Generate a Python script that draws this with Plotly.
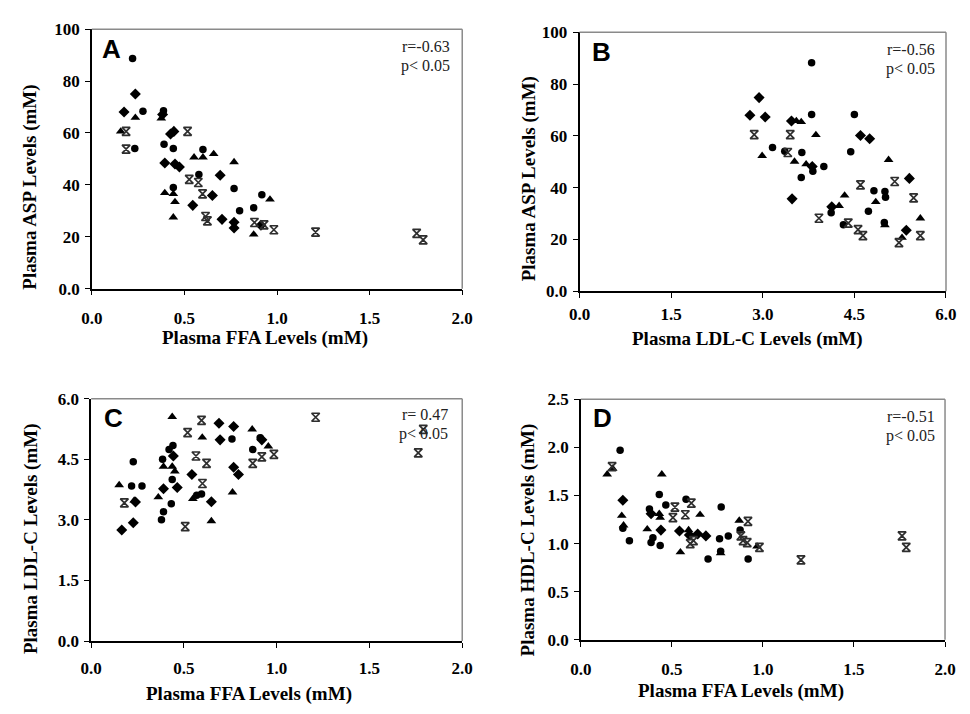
import plotly.graph_objects as go

W, H = 970, 714

# ---------------- data ----------------
# Panel A: FFA (mM) vs ASP
a_circle_x = [0.22, 0.276, 0.387, 0.232, 0.39, 0.44, 0.60, 0.578, 0.768, 0.44, 0.798, 0.874, 0.918]
a_circle_y = [88.7, 68.4, 68.6, 54.0, 55.6, 54.0, 53.6, 44.0, 38.6, 39.0, 30.0, 31.2, 36.2]
a_diamond_x = [0.235, 0.174, 0.382, 0.425, 0.443, 0.394, 0.449, 0.473, 0.693, 0.651, 0.545, 0.703, 0.768, 0.768, 0.913]
a_diamond_y = [75.0, 68.1, 67.1, 59.6, 60.6, 48.4, 48.0, 46.9, 43.7, 35.9, 32.1, 26.7, 25.6, 23.4, 24.4]
a_tri_x = [0.235, 0.375, 0.156, 0.552, 0.60, 0.658, 0.768, 0.394, 0.44, 0.449, 0.44, 0.962, 0.874]
a_tri_y = [65.9, 65.6, 60.6, 50.6, 50.6, 51.9, 48.8, 36.9, 36.5, 33.4, 27.5, 34.4, 20.9]
a_star_x = [0.185, 0.185, 0.517, 0.526, 0.575, 0.598, 0.614, 0.624, 0.878, 0.93, 0.983, 1.208, 1.754, 1.789]
a_star_y = [60.6, 53.8, 60.6, 42.1, 40.9, 36.5, 27.8, 26.1, 25.5, 24.6, 22.7, 21.8, 21.3, 18.8]

# Panel B: LDL-C (mM) vs ASP
b_circle_x = [3.80, 3.80, 4.50, 3.16, 3.36, 3.64, 3.82, 4.0, 3.63, 4.44, 4.82, 5.0, 5.01, 4.12, 4.73, 4.32, 4.99]
b_circle_y = [88.3, 68.3, 68.3, 55.5, 54.1, 53.6, 46.4, 48.2, 43.9, 53.9, 38.8, 38.5, 36.3, 30.3, 30.9, 25.7, 26.6]
b_diamond_x = [2.94, 2.79, 3.04, 3.47, 4.60, 4.75, 3.81, 5.40, 3.48, 4.13, 5.35]
b_diamond_y = [74.8, 68.0, 67.3, 65.8, 60.2, 58.9, 48.2, 43.6, 35.7, 32.6, 23.6]
b_tri_x = [3.55, 3.63, 3.87, 2.99, 3.52, 3.71, 5.06, 4.34, 4.85, 4.25, 5.58, 5.0, 5.28]
b_tri_y = [65.8, 65.4, 60.4, 52.3, 50.1, 49.1, 50.8, 37.0, 34.5, 33.0, 28.2, 25.6, 20.7]
b_star_x = [2.86, 3.45, 3.41, 5.16, 4.60, 5.47, 3.92, 4.40, 4.56, 4.64, 5.23, 5.58]
b_star_y = [60.5, 60.5, 53.6, 42.4, 41.1, 36.1, 28.2, 26.3, 23.8, 21.5, 18.8, 21.5]

# Panel C: FFA (mM) vs LDL-C
c_circle_x = [0.759, 0.911, 0.871, 0.441, 0.42, 0.385, 0.227, 0.437, 0.218, 0.274, 0.569, 0.595, 0.432, 0.39, 0.379]
c_circle_y = [5.0, 5.03, 4.74, 4.84, 4.74, 4.50, 4.44, 4.0, 3.84, 3.84, 3.61, 3.64, 3.40, 3.20, 3.0]
c_diamond_x = [0.689, 0.768, 0.695, 0.92, 0.443, 0.768, 0.794, 0.543, 0.39, 0.464, 0.648, 0.239, 0.227, 0.165]
c_diamond_y = [5.39, 5.31, 4.98, 4.98, 4.58, 4.30, 4.12, 4.12, 3.77, 3.80, 3.45, 3.44, 2.93, 2.75]
c_tri_x = [0.437, 0.868, 0.599, 0.955, 0.39, 0.437, 0.451, 0.151, 0.762, 0.362, 0.548, 0.648, 0.232]
c_tri_y = [5.55, 5.24, 5.04, 4.82, 4.32, 4.32, 4.20, 3.86, 3.68, 3.56, 3.52, 2.97, 3.48]
c_star_x = [0.595, 0.52, 0.92, 0.985, 0.871, 0.565, 0.622, 0.60, 0.179, 0.507, 1.21, 1.79, 1.763]
c_star_y = [5.46, 5.16, 4.56, 4.62, 4.40, 4.58, 4.40, 3.90, 3.42, 2.83, 5.54, 5.24, 4.66]

# Panel D: FFA (mM) vs HDL-C
d_circle_x = [0.216, 0.431, 0.578, 0.771, 0.467, 0.377, 0.231, 0.875, 0.81, 0.762, 0.267, 0.396, 0.386, 0.436, 0.699, 0.919, 0.768]
d_circle_y = [1.97, 1.51, 1.46, 1.38, 1.40, 1.36, 1.16, 1.14, 1.08, 1.05, 1.03, 1.06, 1.01, 0.98, 0.84, 0.84, 0.92]
d_diamond_x = [0.231, 0.386, 0.44, 0.542, 0.596, 0.642, 0.687]
d_diamond_y = [1.45, 1.31, 1.14, 1.13, 1.09, 1.10, 1.08]
d_tri_x = [0.145, 0.175, 0.445, 0.431, 0.436, 0.655, 0.225, 0.235, 0.87, 0.365, 0.592, 0.968, 0.547, 0.768]
d_tri_y = [1.72, 1.78, 1.72, 1.31, 1.27, 1.30, 1.29, 1.19, 1.24, 1.15, 1.14, 0.97, 0.91, 0.90]
d_star_x = [0.172, 0.607, 0.517, 0.506, 0.574, 0.918, 0.879, 0.891, 0.914, 0.601, 0.619, 0.981, 1.209, 1.764, 1.787]
d_star_y = [1.80, 1.42, 1.38, 1.27, 1.30, 1.23, 1.08, 1.03, 1.01, 1.0, 1.03, 0.96, 0.83, 1.08, 0.96]

# ticks
ffa_ticks = [0, 0.5, 1.0, 1.5, 2.0]
ffa_ticktext = ["0.0", "0.5", "1.0", "1.5", "2.0"]
asp_ticks = [0, 20, 40, 60, 80, 100]
asp_ticktext = ["0.0", "20", "40", "60", "80", "100"]
ldl_ticks = [0, 1.5, 3.0, 4.5, 6.0]
ldl_ticktext = ["0.0", "1.5", "3.0", "4.5", "6.0"]
hdl_ticks = [0, 0.5, 1.0, 1.5, 2.0, 2.5]
hdl_ticktext = ["0.0", "0.5", "1.0", "1.5", "2.0", "2.5"]

panel_letters = ["A", "B", "C", "D"]
r_texts = ["r=-0.63", "r=-0.56", "r= 0.47", "r=-0.51"]
p_texts = ["p< 0.05", "p< 0.05", "p< 0.05", "p< 0.05"]
x_titles = ["Plasma FFA Levels (mM)", "Plasma LDL-C Levels (mM)",
            "Plasma FFA Levels (mM)", "Plasma FFA Levels (mM)"]
y_titles = ["Plasma ASP Levels (mM)", "Plasma ASP Levels (mM)",
            "Plasma LDL-C Levels (mM)", "Plasma HDL-C Levels (mM)"]

# ---------------- layout geometry (pixels) ----------------
def fx(p):
    return p / W

def fy(p):
    return 1 - p / H

SERIF = "Liberation Serif"
SANS = "Liberation Sans"

panels = [
    dict(xd=(82.7, 461.7), yd=(20.7, 287.3), xr=[0, 2], yr=[0, 100],
         xt=(ffa_ticks, ffa_ticktext), yt=(asp_ticks, asp_ticktext), xso=8,
         data=[(a_circle_x, a_circle_y), (a_diamond_x, a_diamond_y), (a_tri_x, a_tri_y), (a_star_x, a_star_y)],
         letter=(103, 41), rp=(451, 39, 59), xtitle=(260, 338), ytitle=(20, 183)),
    dict(xd=(581.7, 956.7), yd=(24, 290), xr=[0, 6], yr=[0, 100],
         xt=(ldl_ticks, ldl_ticktext), yt=(asp_ticks, asp_ticktext), xso=2,
         data=[(b_circle_x, b_circle_y), (b_diamond_x, b_diamond_y), (b_tri_x, b_tri_y), (b_star_x, b_star_y)],
         letter=(604, 44), rp=(947, 42, 62), xtitle=(754, 339), ytitle=(530, 174)),
    dict(xd=(82, 461.7), yd=(400.3, 649.3), xr=[0, 2], yr=[0, 6],
         xt=(ffa_ticks, ffa_ticktext), yt=(ldl_ticks, ldl_ticktext), xso=6,
         data=[(c_circle_x, c_circle_y), (c_diamond_x, c_diamond_y), (c_tri_x, c_tri_y), (c_star_x, c_star_y)],
         letter=(105, 420), rp=(449, 417, 437), xtitle=(244, 704), ytitle=(20, 544)),
    dict(xd=(583, 955.7), yd=(401, 648), xr=[0, 2], yr=[0, 2.5],
         xt=(ffa_ticks, ffa_ticktext), yt=(hdl_ticks, hdl_ticktext), xso=8,
         data=[(d_circle_x, d_circle_y), (d_diamond_x, d_diamond_y), (d_tri_x, d_tri_y), (d_star_x, d_star_y)],
         letter=(605, 420), rp=(948, 419, 439), xtitle=(747, 701), ytitle=(530, 545)),
]

marker_styles = [
    dict(symbol="circle", size=7.5, color="black"),
    dict(symbol="diamond", size=8.5, color="black"),
    dict(symbol="triangle-up", size=8.5, color="black"),
    dict(symbol="hourglass-open", size=8, color="#2e2e2e", line=dict(width=1.7, color="#2e2e2e")),
]

fig = go.Figure()
layout = dict(width=W, height=H, margin=dict(l=0, r=0, t=0, b=0),
              paper_bgcolor="white", plot_bgcolor="white", showlegend=False)
annotations = []
shapes = []

for i, p in enumerate(panels):
    n = "" if i == 0 else str(i + 1)
    xa, ya = "x" + n, "y" + n
    for (xs, ys), ms in zip(p["data"], marker_styles):
        fig.add_trace(go.Scatter(x=xs, y=ys, mode="markers", marker=ms,
                                 xaxis=xa, yaxis=ya, cliponaxis=False))
    axis_common = dict(showgrid=False, zeroline=False, showline=True,
                       linecolor="black", linewidth=1.5, ticks="outside",
                       ticklen=5, tickwidth=1.2, tickcolor="black",
                       tickfont=dict(family=SERIF, size=17, color="black", weight="bold"),
                       fixedrange=True)
    layout["xaxis" + n] = dict(axis_common, domain=[fx(p["xd"][0]), fx(p["xd"][1])],
                               range=p["xr"], tickvals=p["xt"][0], ticktext=p["xt"][1],
                               anchor=ya, ticklabelstandoff=p["xso"])
    layout["yaxis" + n] = dict(axis_common, domain=[fy(p["yd"][1]), fy(p["yd"][0])],
                               range=p["yr"], tickvals=p["yt"][0], ticktext=p["yt"][1],
                               anchor=xa, ticklabelstandoff=2)
    # top & right frame in gray
    shapes.append(dict(type="line", xref=xa + " domain", yref=ya + " domain",
                       x0=0, x1=1, y0=1, y1=1, line=dict(color="#8a8a8a", width=1.5)))
    shapes.append(dict(type="line", xref=xa + " domain", yref=ya + " domain",
                       x0=1, x1=1, y0=0, y1=1, line=dict(color="#8a8a8a", width=1.5)))
    # panel letter
    annotations.append(dict(text="<b>%s</b>" % panel_letters[i], x=fx(p["letter"][0]), y=fy(p["letter"][1]),
                            xref="paper", yref="paper", showarrow=False,
                            xanchor="center", yanchor="middle",
                            font=dict(family=SANS, size=26, color="black")))
    # r / p text
    annotations.append(dict(text=r_texts[i], x=fx(p["rp"][0]), y=fy(p["rp"][1]),
                            xref="paper", yref="paper", showarrow=False,
                            xanchor="right", yanchor="middle",
                            font=dict(family=SERIF, size=16, color="#222")))
    annotations.append(dict(text=p_texts[i], x=fx(p["rp"][0]), y=fy(p["rp"][2]),
                            xref="paper", yref="paper", showarrow=False,
                            xanchor="right", yanchor="middle",
                            font=dict(family=SERIF, size=16, color="#222")))
    # axis titles
    annotations.append(dict(text="<b>%s</b>" % x_titles[i], x=fx(p["xtitle"][0]), y=fy(p["xtitle"][1]),
                            xref="paper", yref="paper", showarrow=False,
                            xanchor="center", yanchor="middle",
                            font=dict(family=SERIF, size=19, color="black")))
    annotations.append(dict(text="<b>%s</b>" % y_titles[i], x=fx(p["ytitle"][0]), y=fy(p["ytitle"][1]),
                            xref="paper", yref="paper", showarrow=False, textangle=-90,
                            xanchor="center", yanchor="middle",
                            font=dict(family=SERIF, size=19, color="black")))

layout["annotations"] = annotations
layout["shapes"] = shapes
fig.update_layout(**layout)
fig.write_html("out.html", config={"displayModeBar": False},
               post_script="document.body.style.margin='0';document.body.style.padding='0';")
